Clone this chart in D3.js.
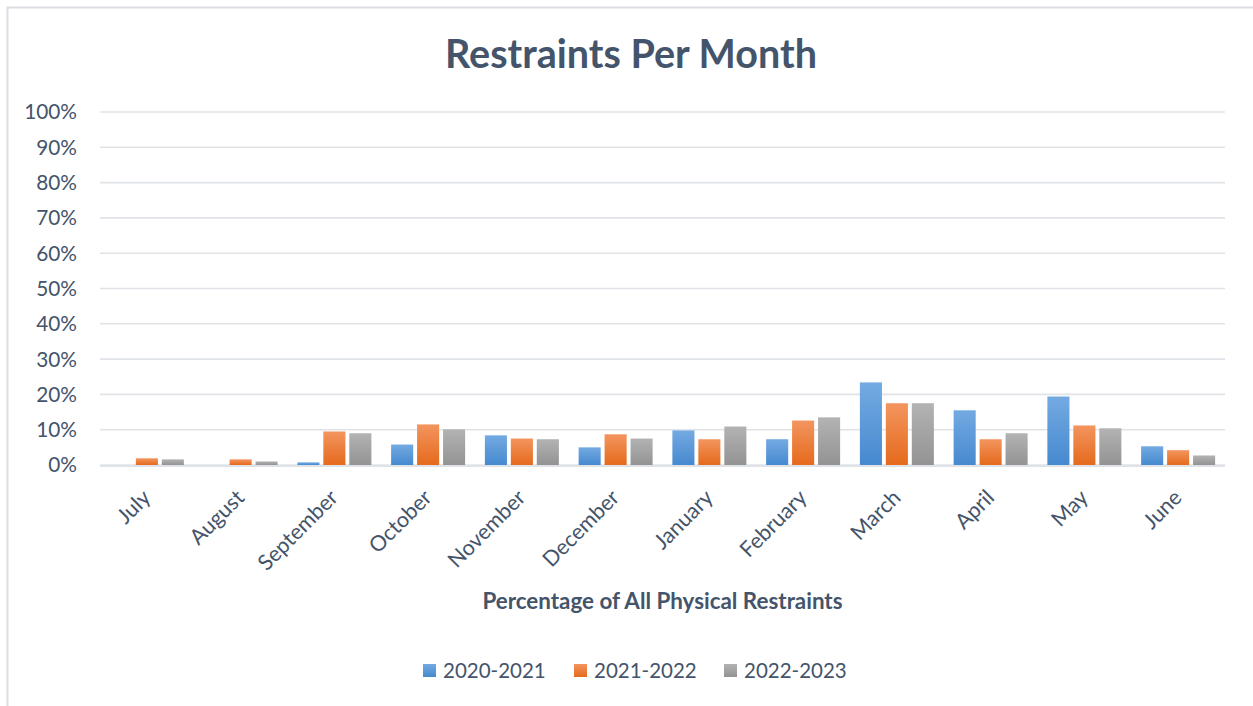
<!DOCTYPE html>
<html lang="en">
<head>
  <meta charset="utf-8">
  <title>Restraints Per Month</title>
  <script src="https://d3js.org/d3.v7.min.js"></script>
  <style>
  body { margin: 0; background: #fff; }
  text {
      font-family: Lato, "Open Sans", sans-serif;
      fill: #44546a;
  }
  </style>
</head>
<body>
  <script>
    // chart values (fractions of all restraints)
    var months = ["July", "August", "September", "October", "November", "December",
                  "January", "February", "March", "April", "May", "June"];
    var seriesNames = ["2020-2021", "2021-2022", "2022-2023"];
    var values2021 = [0, 0, 0.0075, 0.058, 0.084, 0.050, 0.098, 0.073, 0.234, 0.155, 0.194, 0.053];
    var values2122 = [0.019, 0.016, 0.095, 0.115, 0.075, 0.087, 0.073, 0.126, 0.175, 0.073, 0.112, 0.042];
    var values2223 = [0.016, 0.010, 0.090, 0.101, 0.073, 0.075, 0.109, 0.135, 0.175, 0.090, 0.104, 0.027];
    var yTicks = [0, 0.1, 0.2, 0.3, 0.4, 0.5, 0.6, 0.7, 0.8, 0.9, 1];
    var colorsTop = ["#74aae2", "#f3955f", "#b3b3b3"];
    var colorsBottom = ["#4689cf", "#e56a1c", "#939393"];

    var allValues = [values2021, values2122, values2223];
    var data = months.map(function(m, i) {
      return { month: m, vals: seriesNames.map(function(s, j) { return { series: s, idx: j, value: allValues[j][i] }; }) };
    });

    var w = 1253, h = 706;
    // plot area edges (note: "top" is reserved by the browser window)
    var plotLeft = 100, plotRight = 1225, plotTop = 112, plotBottom = 465;

    var svg = d3.select("body").append("svg")
      .attr("width", w)
      .attr("height", h);

    // gradients for bar fills
    var defs = svg.append("defs");
    seriesNames.forEach(function(s, j) {
      var g = defs.append("linearGradient")
        .attr("id", "grad" + j)
        .attr("x1", 0).attr("y1", 0).attr("x2", 0).attr("y2", 1);
      g.append("stop").attr("offset", "0%").attr("stop-color", colorsTop[j]);
      g.append("stop").attr("offset", "100%").attr("stop-color", colorsBottom[j]);
    });

    // outer chart frame
    svg.append("rect")
      .attr("x", 7.5).attr("y", 7.5)
      .attr("width", 1270).attr("height", 720)
      .attr("fill", "none")
      .attr("stroke", "#dadee3")
      .attr("stroke-width", 2);

    var x0 = d3.scaleBand().domain(months).range([plotLeft, plotRight]).padding(0);
    var groupW = 74;
    var x1 = d3.scaleBand().domain(seriesNames)
      .range([(x0.bandwidth() - groupW) / 2, (x0.bandwidth() + groupW) / 2])
      .paddingInner(0.15);
    var y = d3.scaleLinear().domain([0, 1]).range([plotBottom, plotTop]);

    // gridlines
    svg.append("g").selectAll("line")
      .data(yTicks)
      .enter().append("line")
      .attr("x1", plotLeft).attr("x2", plotRight)
      .attr("y1", function(d) { return y(d); })
      .attr("y2", function(d) { return y(d); })
      .attr("stroke", "#dfe3e8")
      .attr("stroke-width", 1.6);

    // y tick labels
    svg.append("g").selectAll("text")
      .data(yTicks)
      .enter().append("text")
      .attr("x", 77)
      .attr("y", function(d) { return y(d); })
      .attr("dy", "0.36em")
      .attr("text-anchor", "end")
      .style("font-size", "20.8px")
      .text(d3.format(".0%"));

    // bars
    var groups = svg.append("g").selectAll("g")
      .data(data)
      .enter().append("g")
      .attr("transform", function(d) { return "translate(" + x0(d.month) + ",0)"; });

    groups.selectAll("rect")
      .data(function(d) { return d.vals; })
      .enter().append("rect")
      .attr("x", function(d) { return x1(d.series); })
      .attr("y", function(d) { return y(d.value); })
      .attr("width", x1.bandwidth())
      .attr("height", function(d) { return y(0) - y(d.value); })
      .attr("fill", function(d) { return "url(#grad" + d.idx + ")"; });

    // baseline drawn over the bars
    svg.append("line")
      .attr("x1", plotLeft).attr("x2", plotRight)
      .attr("y1", y(0) + 1).attr("y2", y(0) + 1)
      .attr("stroke", "#dfe3e8")
      .attr("stroke-width", 2);

    // month labels, rotated
    svg.append("g").selectAll("text")
      .data(months)
      .enter().append("text")
      .attr("text-anchor", "end")
      .attr("transform", function(d) {
        return "translate(" + (x0(d) + x0.bandwidth() / 2 + 5) + ",499) rotate(-45)";
      })
      .style("font-size", "21.5px")
      .text(function(d) { return d; });

    // chart title
    svg.append("text")
      .attr("x", 631).attr("y", 68)
      .attr("text-anchor", "middle")
      .style("font-size", "39.5px")
      .style("font-weight", "bold")
      .text("Restraints Per Month");

    // axis title
    svg.append("text")
      .attr("x", (plotLeft + plotRight) / 2).attr("y", 609)
      .attr("text-anchor", "middle")
      .style("font-size", "22.4px")
      .style("font-weight", "bold")
      .text("Percentage of All Physical Restraints");

    // legend
    var legendX = [423, 574, 724];
    var legend = svg.append("g").selectAll("g")
      .data(seriesNames)
      .enter().append("g")
      .attr("transform", function(d, i) { return "translate(" + legendX[i] + ",664)"; });
    legend.append("rect")
      .attr("width", 13).attr("height", 13)
      .attr("fill", function(d, i) { return "url(#grad" + i + ")"; });
    legend.append("text")
      .attr("x", 20).attr("y", 13.5)
      .style("font-size", "20.5px")
      .text(function(d) { return d; });
  </script>
</body>
</html>
